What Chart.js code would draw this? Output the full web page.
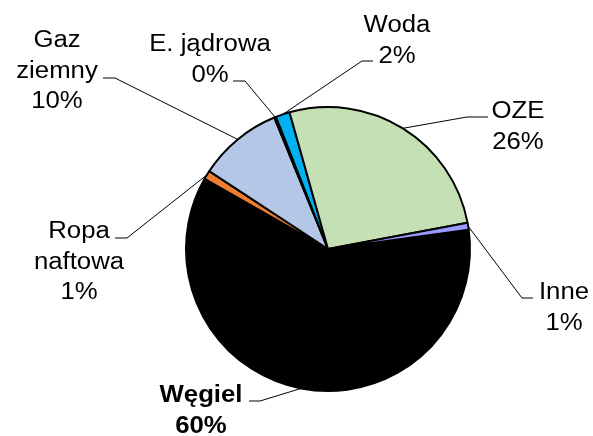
<!DOCTYPE html>
<html>
<head>
<meta charset="utf-8">
<script src="https://cdn.jsdelivr.net/npm/chart.js@4.4.1/dist/chart.umd.min.js"></script>
<style>
  html, body { margin: 0; padding: 0; background: #fff; }
  #wrap { width: 593px; height: 436px; }
</style>
</head>
<body>
<div id="wrap"><canvas id="wykres" width="593" height="436"></canvas></div>
<script>
// dane
const categories = ['Węgiel', ['Ropa', 'naftowa'], ['Gaz', 'ziemny'], 'E. jądrowa', 'Woda', 'OZE', 'Inne'];
const shares = [60.4, 1.0, 9.6, 0.2, 1.6, 26.4, 0.8];
const sliceColors = ['#000000', '#ED7D31', '#B4C7E7', '#FFC000', '#00B0F0', '#C5E0B4', '#9999FF'];

// rozmieszczenie etykiet (tekst + linia odniesienia)
const labelLayout = [
    { cx: 201, y: 402, hx: 249, ex: 260, ey: 401, bold: true },
    { cx: 79,  y: 238, hx: 115, ex: 127, ey: 238 },
    { cx: 57,  y: 47,  hx: 103, ex: 115, ey: 78 },
    { cx: 210, y: 51,  hx: 233, ex: 245, ey: 81 },
    { cx: 397, y: 32,  hx: 373, ex: 362, ey: 61 },
    { cx: 518, y: 118, hx: 488, ex: 467, ey: 117 },
    { cx: 564, y: 299, hx: 533, ex: 522, ey: 298 }
];

const total = shares.reduce((a, b) => a + b, 0);

const etykiety = {
    id: 'etykiety',
    afterDatasetsDraw(chart) {
        const ctx = chart.ctx;
        const arcs = chart.getDatasetMeta(0).data;
        ctx.save();
        arcs.forEach((arc, i) => {
            const p = arc.getProps(['x', 'y', 'startAngle', 'endAngle', 'outerRadius'], true);
            const mid = (p.startAngle + p.endAngle) / 2;
            const px = p.x + Math.cos(mid) * p.outerRadius;
            const py = p.y + Math.sin(mid) * p.outerRadius;
            const l = labelLayout[i];

            // linia odniesienia
            ctx.strokeStyle = '#000';
            ctx.lineWidth = 1;
            ctx.beginPath();
            ctx.moveTo(px, py);
            ctx.lineTo(l.ex, l.ey);
            ctx.lineTo(l.hx, l.ey);
            ctx.stroke();

            // tekst
            const name = categories[i];
            const lines = (Array.isArray(name) ? name.slice() : [name]);
            lines.push(Math.round(shares[i] / total * 100) + '%');
            ctx.fillStyle = '#000';
            ctx.font = (l.bold ? 'bold ' : '') + '23px "Liberation Sans", Arial, sans-serif';
            ctx.textAlign = 'center';
            ctx.textBaseline = 'alphabetic';
            lines.forEach((t, k) => {
                ctx.save();
                ctx.translate(l.cx, l.y + k * 30.5);
                ctx.scale(1.12, 1);
                ctx.fillText(t, 0, 0);
                ctx.restore();
            });
        });
        ctx.restore();
    }
};

const myChart = new Chart(document.getElementById('wykres'), {
    type: 'pie',
    data: {
        labels: categories,
        datasets: [{
            data: shares,
            backgroundColor: sliceColors,
            borderColor: '#000',
            borderWidth: 2
        }]
    },
    options: {
        responsive: false,
        animation: false,
        rotation: 82.2,
        layout: { padding: { left: 185, right: 122, top: 106, bottom: 44 } },
        plugins: {
            legend: { display: false },
            tooltip: { enabled: false }
        }
    },
    plugins: [etykiety]
});
</script>
</body>
</html>
